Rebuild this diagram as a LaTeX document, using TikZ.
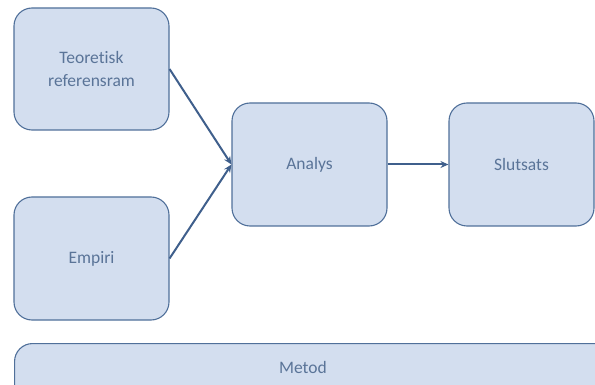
\documentclass[tikz,border=0pt]{standalone}
\usepackage{fontspec}
\setmainfont{Carlito}[Ligatures={NoCommon}]
\usetikzlibrary{arrows.meta}
\definecolor{boxfill}{HTML}{D3DEEF}
\definecolor{boxline}{HTML}{50709A}
\definecolor{txt}{HTML}{5A7498}
\definecolor{arr}{HTML}{3F5F8C}
\tikzset{
  box/.style={draw=boxline, fill=boxfill, line width=1.1pt, rounded corners=18pt,
    text=txt, font=\fontsize{17.5}{22.5}\selectfont, align=center, inner sep=0pt},
  conn/.style={draw=arr, line width=2pt, -{Stealth[length=8pt,width=7pt]}}
}
\begin{document}
\begin{tikzpicture}[x=1pt,y=-1pt]
\useasboundingbox (0,0) rectangle (595,385);
\clip (0,0) rectangle (595,385);
\fill[white] (0,0) rectangle (595,385);
\node[box, minimum width=155pt, minimum height=122pt] (teo) at (91.5,69) {Teoretisk\\referensram};
\node[box, minimum width=155pt, minimum height=123pt] (emp) at (91.5,258.5) {Empiri};
\node[box, minimum width=155pt, minimum height=123pt] (ana) at (309.5,164.5) {Analys};
\node[box, minimum width=145pt, minimum height=123pt] (slu) at (521.5,164.5) {Slutsats};
\node[box, minimum width=640pt, minimum height=70pt, anchor=north west] (met) at (14,343) {};
\node[text=txt, font=\fontsize{17.5}{22.5}\selectfont] (mettxt) at (303,367) {Metod};
\draw[conn] (teo.east) -- (ana.west);
\draw[conn] (emp.east) -- (ana.west);
\draw[conn] (ana.east) -- (slu.west);
\end{tikzpicture}
\end{document}
